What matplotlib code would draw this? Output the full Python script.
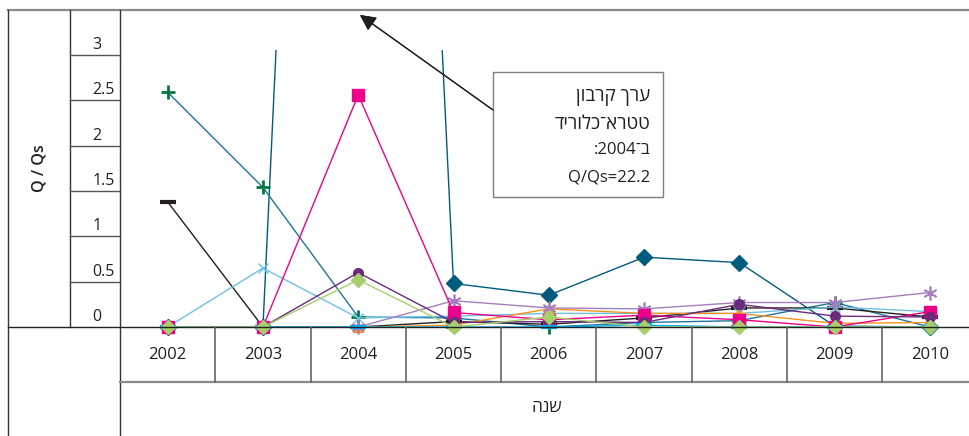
import matplotlib
matplotlib.use("Agg")
import matplotlib.pyplot as plt
import matplotlib.transforms as mtransforms
from matplotlib.patches import Rectangle
from matplotlib.lines import Line2D

plt.rcParams['font.family'] = ['Open Sans', 'DejaVu Sans']

# data (Q/Qs per year); 2004 value of the diamond series is 22.2 (off scale)
years = ['2002', '2003', '2004', '2005', '2006', '2007', '2008', '2009', '2010']
y_ticks = [0, 0.5, 1, 1.5, 2, 2.5, 3]

carbon_tetra = [0, 0, 22.2, 0.48, 0.35, 0.77, 0.71, 0.01, 0.0]
plus_series = [2.59, 1.54, 0.11, 0.10, 0.0, 0.05, 0.07, 0.27, 0.0]
dash_series = [1.38, 0, 0, 0.06, 0.03, 0.10, 0.21, 0.21, 0.11]
xcross_series = [0, 0.65, 0.10, 0.12, 0.15, 0.15, 0.15, 0.22, 0.17]
orange_series = [0, 0, 0, 0.02, 0.20, 0.15, 0.15, 0.04, 0.05]
star_series = [0, 0, 0, 0.29, 0.21, 0.20, 0.27, 0.27, 0.38]
square_series = [0, 0, 2.56, 0.16, 0.08, 0.13, 0.08, 0.0, 0.17]
circle_series = [0, 0, 0.60, 0.05, 0.06, 0.05, 0.25, 0.12, 0.11]
bar_series = [0, 0, 0, 0, 0, 0.02, 0, 0, 0]
ldiamond_series = [0, 0, 0.52, 0, 0.11, 0, 0, 0, 0]

W, H = 970, 436
fig = plt.figure(figsize=(9.7, 4.36), dpi=100)


def fx(x):
    return x / W


def fy(y):
    return 1 - y / H


# axes: x from 120 to 977.6 px, y data 0 at 327px, 90.67 px per unit
ax = fig.add_axes([fx(120), fy(340.6), 857.6 / W, (340.6 - 50) / H])
ax.set_xlim(-0.5, len(years) - 0.5)
ax.set_ylim(-0.15, 3.055)
ax.axis('off')

xs = list(range(len(years)))
ax.plot(xs, carbon_tetra, color='#005B7F', lw=1.0, marker='D', ms=8, zorder=3)
ax.plot(xs, plus_series, color='#1F7598', lw=1.0, marker='+', ms=10, mew=2,
        mec='#00793F', zorder=3)
ax.plot(xs, dash_series, color='#231F20', lw=1.0, marker='_', ms=11, mew=3, zorder=3)
ax.plot(xs, xcross_series, color='#6EC1E4', lw=1.0, marker='x', ms=7, mew=1, zorder=3)
ax.plot(xs, orange_series, color='#F7941D', lw=1.0, marker='^', ms=7, zorder=3)
ax.plot(xs, star_series, color='#A57FBD', lw=1.0, marker=(6, 2, 0), ms=10, mew=1.2, zorder=3)
ax.plot(xs, square_series, color='#EC008C', lw=1.0, marker='s', ms=8, zorder=3)
ax.plot(xs, circle_series, color='#6A2C7A', lw=1.0, marker='o', ms=7, zorder=3)
ax.plot(xs, bar_series, color='#00AEEF', lw=1.0, marker='_', ms=11, mew=3, zorder=3)
ax.plot(xs, ldiamond_series, color='#A6CE6A', lw=1.0, marker='D', ms=7, zorder=3)

# clip lines to the plotting area but let markers at zero show fully
for ln in ax.lines:
    ln.set_clip_path(Rectangle((-0.5, -0.2), len(years), 3.255, transform=ax.transData))


def fline(x0, y0, x1, y1, color='#333333', lw=1.0):
    fig.add_artist(Line2D([fx(x0), fx(x1)], [fy(y0), fy(y1)], color=color, lw=lw))


# table frame
fline(8, 10, 970, 10, color='#8a8a8a', lw=1.6)
fline(8, 10, 8, 436)
fline(70, 10, 70, 327)
fline(120, 10, 120, 436)
fline(8, 327, 970, 327, color='#222222', lw=1.0)
fline(120, 382, 970, 382, color='#8a8a8a', lw=1.6)

# y tick rows in the label column
to_fig = ax.transData + fig.transFigure.inverted()
for t in y_ticks:
    yf = to_fig.transform((0, t))[1]
    if t > 0:
        fig.add_artist(Line2D([fx(70), fx(120)], [yf, yf], color='#555555', lw=1.0))
    lab = str(t) if t != int(t) else str(int(t))
    xc = 103.5 if '.' in lab else 97
    fig.text(fx(xc), yf + 10 / H, lab, ha='center', va='center', fontsize=11.5,
             color='#231F20')

# category cells
blend = mtransforms.blended_transform_factory(ax.transData, fig.transFigure)
for i in range(len(years) - 1):
    fig.add_artist(Line2D([i + 0.5, i + 0.5], [fy(327), fy(382)], transform=blend,
                          color='#666666', lw=1.2))
for i, yr in enumerate(years):
    fig.text(i, fy(355), yr, transform=blend, ha='center', va='center',
             fontsize=12, color='#231F20')

fig.text(fx(547), fy(408), 'הנש', ha='center', va='center', fontsize=12.5, color='#231F20')
fig.text(fx(40), fy(168), 'Q / Qs', ha='center', va='center', rotation=90,
         fontsize=11.5, fontweight='semibold', color='#231F20')

# annotation box and arrow
fig.add_artist(Rectangle((fx(493), fy(197)), (663 - 493) / W, (197 - 72) / H,
                         transform=fig.transFigure, fill=False, ec='#7f7f7f', lw=1.0))
fig.add_artist(plt.annotate('', xy=(fx(360), fy(15)), xycoords='figure fraction',
                            xytext=(fx(493), fy(110)), textcoords='figure fraction',
                            arrowprops=dict(arrowstyle='-|>', color='#231F20', lw=0.9,
                                            mutation_scale=24, shrinkA=0, shrinkB=0)))
box_lines = ['ןוברק ךרע', 'דירולכ־ארטט', ':2004־ב', 'Q/Qs=22.2']
box_sizes = [13.5, 13.5, 12, 12]
for k, s in enumerate(box_lines):
    fig.text(fx(650), fy(97 + k * 26.7), s, ha='right', va='center', fontsize=box_sizes[k],
             color='#231F20')

fig.savefig('out.png', dpi=100)
